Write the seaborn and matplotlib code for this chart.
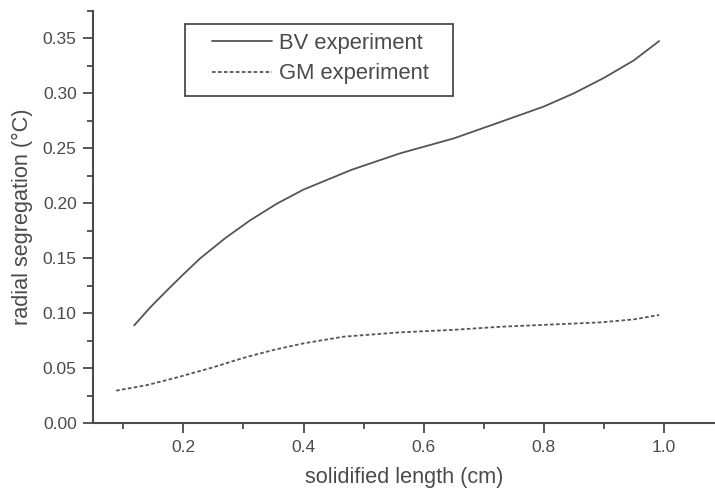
import matplotlib
matplotlib.use('Agg')
import matplotlib.pyplot as plt
from matplotlib.ticker import MultipleLocator
from matplotlib.patches import Rectangle
import seaborn as sns
import pandas as pd

# --- data ---
bv_x = [0.118, 0.145, 0.172, 0.20, 0.228, 0.27, 0.311, 0.355, 0.40, 0.48, 0.561, 0.65,
        0.728, 0.80, 0.85, 0.90, 0.95, 0.992]
bv_y = [0.089, 0.1055, 0.1205, 0.1355, 0.150, 0.1685, 0.1845, 0.1995, 0.2125, 0.2305, 0.2455, 0.259,
        0.274, 0.288, 0.300, 0.314, 0.330, 0.3475]

gm_x = [0.088, 0.14, 0.194, 0.25, 0.30, 0.35, 0.40, 0.467, 0.561, 0.65, 0.728, 0.80, 0.895,
        0.95, 0.992]
gm_y = [0.0297, 0.0348, 0.0424, 0.051, 0.0595, 0.0667, 0.0727, 0.0788, 0.0827, 0.085, 0.0878,
        0.0895, 0.0918, 0.0945, 0.0985]

labels = ['BV experiment', 'GM experiment']
x_label = 'solidified length (cm)'
y_label = 'radial segregation (°C)'

sns.set_style('ticks')
plt.rcParams['font.family'] = ['Liberation Sans', 'DejaVu Sans']

ink = '#4a4a4a'
W, H = 715, 492
fig = plt.figure(figsize=(W / 100, H / 100), dpi=100)
ax = fig.add_axes([0.1305, 0.1396, 0.8695, 0.8384])

df_bv = pd.DataFrame({'x': bv_x, 'y': bv_y})
df_gm = pd.DataFrame({'x': gm_x, 'y': gm_y})
sns.lineplot(data=df_bv, x='x', y='y', ax=ax, color='#555555', lw=1.3, sort=False, label=labels[0])
sns.lineplot(data=df_gm, x='x', y='y', ax=ax, color='#555555', lw=1.3, sort=False,
             linestyle=(0, (2.0, 1.3)), label=labels[1])

ax.set_xlim(0.05, 1.085)
ax.set_ylim(0.0, 0.375)
ax.xaxis.set_minor_locator(MultipleLocator(0.1))
ax.yaxis.set_minor_locator(MultipleLocator(0.025))
ax.set_xticks([0.2, 0.4, 0.6, 0.8, 1.0])
ax.set_xticklabels(['0.2', '0.4', '0.6', '0.8', '1.0'])
ax.set_yticks([0.0, 0.05, 0.1, 0.15, 0.2, 0.25, 0.3, 0.35])
ax.set_yticklabels(['0.00', '0.05', '0.10', '0.15', '0.20', '0.25', '0.30', '0.35'])

for s in ['top', 'right']:
    ax.spines[s].set_visible(False)
for s in ['left', 'bottom']:
    ax.spines[s].set_linewidth(1.5)
    ax.spines[s].set_color(ink)

ax.tick_params(which='major', length=7, width=1.3, color=ink, labelsize=12.5, labelcolor=ink, pad=5)
ax.tick_params(which='minor', length=4, width=1.3, color=ink)

ax.set_xlabel(x_label, fontsize=15.6, color=ink, labelpad=9)
ax.set_ylabel(y_label, fontsize=15.6, color=ink, labelpad=7)

# legend without its own frame; the box is drawn separately to match the wide side padding
leg = ax.legend(loc='upper left', bbox_to_anchor=(212 / W, 1 - 33 / H),
                bbox_transform=fig.transFigure, fontsize=15.8, frameon=False,
                handlelength=2.75, handletextpad=0.3, borderpad=0,
                labelspacing=0.42, borderaxespad=0)
for t in leg.get_texts():
    t.set_color(ink)
fig.patches.append(Rectangle((185 / W, 1 - 96 / H), (453 - 185) / W, (96 - 24) / H,
                             transform=fig.transFigure, fill=False, edgecolor=ink, lw=1.3))

fig.savefig('out.png', dpi=100)
